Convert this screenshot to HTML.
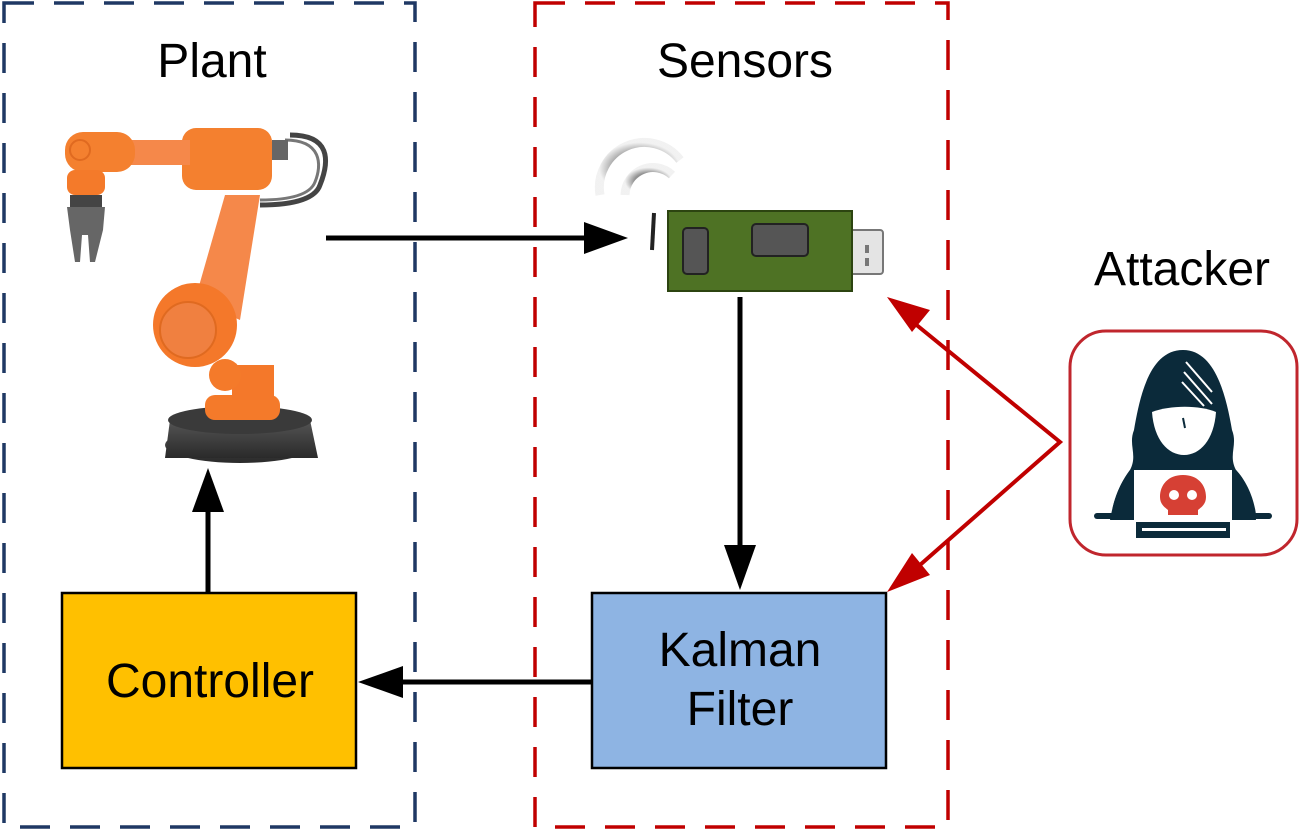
<!DOCTYPE html>
<html><head><meta charset="utf-8"><style>
html,body{margin:0;padding:0;background:#fff;}
svg{display:block;}
text{font-family:"Liberation Sans",Arial,sans-serif;fill:#000;}
</style></head><body>
<svg width="1306" height="831" viewBox="0 0 1306 831" xmlns="http://www.w3.org/2000/svg">
<defs>
<radialGradient id="wf" cx="0.5" cy="0.5" r="0.5"><stop offset="0.6" stop-color="#777"/><stop offset="1" stop-color="#eee"/></radialGradient>
<linearGradient id="base" x1="0" y1="0" x2="0" y2="1"><stop offset="0" stop-color="#555"/><stop offset="1" stop-color="#2a2a2a"/></linearGradient>
</defs>
<rect x="4" y="3" width="411" height="824" fill="none" stroke="#1f3864" stroke-width="3.5" stroke-dasharray="30,20"/>
<rect x="535" y="3" width="413" height="824" fill="none" stroke="#c00000" stroke-width="3.5" stroke-dasharray="30,20"/>

<text x="212" y="77" font-size="48" text-anchor="middle">Plant</text>
<text x="745" y="77" font-size="48" text-anchor="middle">Sensors</text>
<text x="1182" y="285" font-size="48" text-anchor="middle">Attacker</text>

<!-- robot -->
<g>
<path d="M290 135 C330 135 330 160 320 185 C315 200 290 205 260 205" fill="none" stroke="#444" stroke-width="5"/>
<path d="M285 140 C322 140 322 165 315 182 C310 195 290 200 260 200" fill="none" stroke="#777" stroke-width="3"/>
<ellipse cx="240" cy="445" rx="75" ry="18" fill="url(#base)"/>
<path d="M170 420 L310 420 L318 458 L165 458 Z" fill="url(#base)"/>
<ellipse cx="240" cy="420" rx="72" ry="14" fill="#3a3a3a"/>
<rect x="205" y="395" width="75" height="25" rx="10" fill="#f47a2a"/>
<rect x="232" y="365" width="42" height="35" fill="#f4782a"/>
<path d="M225 195 L260 195 L240 320 L195 300 Z" fill="#f5884a"/>
<circle cx="195" cy="325" r="42" fill="#f4782a"/>
<circle cx="188" cy="330" r="28" fill="#f08040" stroke="#e06a20" stroke-width="2"/>
<circle cx="225" cy="375" r="16" fill="#f47a2a"/>
<rect x="182" y="128" width="90" height="62" rx="14" fill="#f4802f"/>
<rect x="130" y="140" width="60" height="25" fill="#f5884a"/>
<rect x="65" y="132" width="70" height="40" rx="18" fill="#f4802f"/>
<circle cx="80" cy="150" r="10" fill="none" stroke="#e06a20" stroke-width="2"/>
<rect x="67" y="170" width="38" height="25" rx="8" fill="#f47a2a"/>
<rect x="70" y="195" width="32" height="12" fill="#444"/>
<path d="M67 207 L105 207 L103 230 L95 262 L90 262 L88 235 L82 235 L80 262 L75 262 L70 230 Z" fill="#666"/>
<rect x="272" y="140" width="16" height="20" fill="#666"/>
</g>

<line x1="326" y1="238" x2="590" y2="238" stroke="#000" stroke-width="5"/>
<polygon points="628,238 584,222 584,254" fill="#000"/>

<path d="M600 195 A45 45 0 0 1 680 160" fill="none" stroke="url(#wf)" stroke-width="9" opacity="0.8"/>
<path d="M625 195 A28 28 0 0 1 672 175" fill="none" stroke="url(#wf)" stroke-width="9" opacity="0.8"/>
<line x1="654" y1="213" x2="652" y2="250" stroke="#222" stroke-width="4"/>
<rect x="838" y="230" width="45" height="44" rx="3" fill="#e4e4e4" stroke="#777" stroke-width="2"/>
<rect x="668" y="211" width="184" height="80" fill="#4e7224" stroke="#2c4410" stroke-width="2"/>
<rect x="683" y="228" width="25" height="46" rx="4" fill="#555" stroke="#222" stroke-width="2"/>
<rect x="752" y="224" width="56" height="32" rx="4" fill="#555" stroke="#222" stroke-width="2"/>
<rect x="865" y="245" width="4" height="8" fill="#777"/><rect x="865" y="258" width="4" height="8" fill="#777"/>

<line x1="740" y1="297" x2="740" y2="550" stroke="#000" stroke-width="5"/>
<polygon points="740,590 724,545 756,545" fill="#000"/>

<rect x="592" y="593" width="294" height="175" fill="#8eb4e3" stroke="#000" stroke-width="2.5"/>
<text x="740" y="666" font-size="48" text-anchor="middle">Kalman</text>
<text x="740" y="725" font-size="48" text-anchor="middle">Filter</text>

<rect x="62" y="593" width="294" height="175" fill="#ffc000" stroke="#000" stroke-width="2.5"/>
<text x="210" y="697" font-size="48" text-anchor="middle">Controller</text>

<line x1="593" y1="682" x2="400" y2="682" stroke="#000" stroke-width="5"/>
<polygon points="358,682 403,666 403,698" fill="#000"/>

<line x1="208" y1="593" x2="208" y2="505" stroke="#000" stroke-width="5"/>
<polygon points="208,468 192,512 224,512" fill="#000"/>

<rect x="1070" y="331" width="227" height="224" rx="36" fill="#fff" stroke="#c0262d" stroke-width="3"/>
<g fill="#0b2a3a">
<path d="M1183 350 C1150 350 1140 395 1134 430 C1128 445 1138 455 1130 470 C1115 490 1112 510 1112 515 L1256 515 C1255 505 1250 485 1236 470 C1228 455 1238 445 1232 430 C1226 395 1215 350 1183 350 Z"/>
<path d="M1130 470 C1115 490 1112 510 1110 520 L1256 520 C1254 505 1250 485 1236 470 Z"/>
<rect x="1094" y="513" width="178" height="6" rx="3"/>
<rect x="1136" y="520" width="94" height="18"/>
</g>
<path d="M1152 412 C1170 405 1200 405 1216 412 C1214 440 1200 455 1184 455 C1168 455 1154 440 1152 412 Z" fill="#fff"/>
<line x1="1183" y1="418" x2="1185" y2="428" stroke="#0b2a3a" stroke-width="2"/>
<rect x="1134" y="470" width="98" height="52" fill="#fff"/>
<rect x="1142" y="528" width="84" height="3" fill="#fff"/>
<g stroke="#fff" stroke-width="2"><line x1="1186" y1="362" x2="1212" y2="392"/><line x1="1184" y1="372" x2="1212" y2="404"/><line x1="1182" y1="382" x2="1204" y2="406"/></g>
<path d="M1183 475 C1168 475 1160 485 1160 497 C1160 505 1166 508 1168 510 L1168 515 L1198 515 L1198 510 C1200 508 1206 505 1206 497 C1206 485 1198 475 1183 475 Z" fill="#d64034"/>
<circle cx="1174" cy="495" r="5" fill="#fff"/><circle cx="1192" cy="495" r="5" fill="#fff"/>

<polyline points="908,318 1060,442 912,572" fill="none" stroke="#c00000" stroke-width="4"/>
<polygon points="887,297 930,310 912,332" fill="#c00000"/>
<polygon points="887,592 912,553 930,575" fill="#c00000"/>
</svg>
</body></html>
